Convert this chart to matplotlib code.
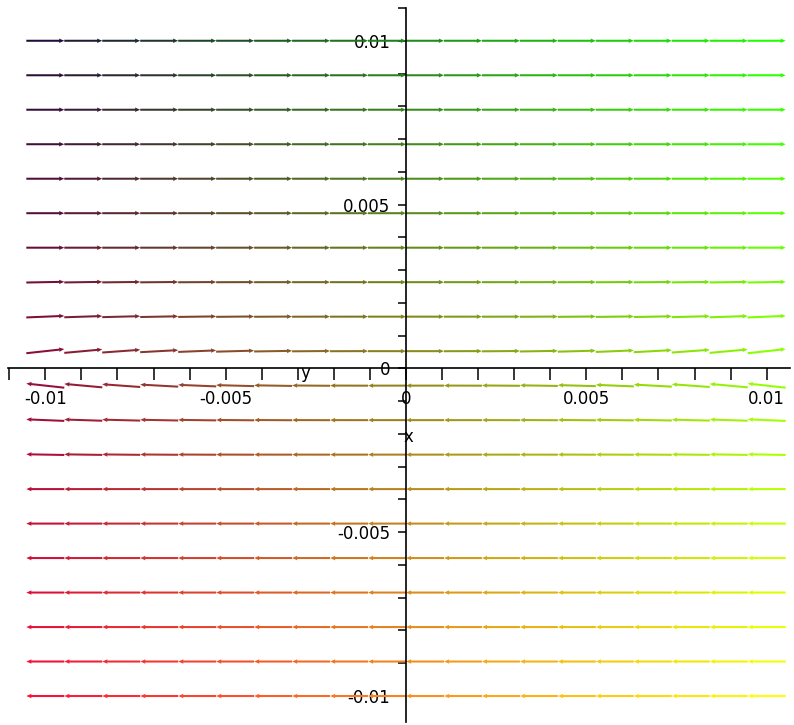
import numpy as np
import matplotlib
matplotlib.use("Agg")
import matplotlib.pyplot as plt

# Grid of arrow centres (20 x 20 fieldplot on [-0.01, 0.01]^2)
x_centers = [-0.01, -0.008947, -0.007895, -0.006842, -0.005789, -0.004737, -0.003684,
             -0.002632, -0.001579, -0.000526, 0.000526, 0.001579, 0.002632, 0.003684,
             0.004737, 0.005789, 0.006842, 0.007895, 0.008947, 0.01]
y_centers = list(x_centers)
arrow_len = 0.001053

# Direction of each row (bottom to top): -1 = points left, +1 = points right
row_direction = [-1, -1, -1, -1, -1, -1, -1, -1, -1, -1,
                 1, 1, 1, 1, 1, 1, 1, 1, 1, 1]

# Upward tilt (dy/dx) of arrows in the rows close to y = 0
tilt_near = [0.12, 0.10, 0.08, 0.06, 0.045, 0.03, 0.018, 0.009, 0.003, 0.0,
             0.0, 0.003, 0.009, 0.018, 0.03, 0.045, 0.06, 0.08, 0.10, 0.12]
tilt_mid = [0.045, 0.036, 0.028, 0.021, 0.015, 0.01, 0.006, 0.003, 0.001, 0.0,
            0.0, 0.001, 0.003, 0.006, 0.01, 0.015, 0.021, 0.028, 0.036, 0.045]
tilt_far = [0.02, 0.016, 0.012, 0.009, 0.006, 0.004, 0.002, 0.001, 0.0, 0.0,
            0.0, 0.0, 0.001, 0.002, 0.004, 0.006, 0.009, 0.012, 0.016, 0.02]
row_tilt = {7: tilt_far, 8: tilt_mid, 9: tilt_near,
            10: tilt_near, 11: tilt_mid, 12: tilt_far}

x_ticks = [-0.011, -0.010, -0.009, -0.008, -0.007, -0.006, -0.005, -0.004, -0.003, -0.002,
           -0.001, 0.0, 0.001, 0.002, 0.003, 0.004, 0.005, 0.006, 0.007, 0.008, 0.009, 0.010]
y_ticks = [-0.010, -0.009, -0.008, -0.007, -0.006, -0.005, -0.004, -0.003, -0.002, -0.001,
           0.0, 0.001, 0.002, 0.003, 0.004, 0.005, 0.006, 0.007, 0.008, 0.009, 0.010, 0.011]
labeled = {-0.01: "-0.01", -0.005: "-0.005", 0.0: "0", 0.005: "0.005", 0.01: "0.01"}

W, H = 794, 725
fig = plt.figure(figsize=(W / 100, H / 100), dpi=100)
ax = fig.add_axes([8 / W, 3 / H, 782 / W, 714 / H])
ax.set_xlim(-0.011034, 0.010646)
ax.set_ylim(-0.010793, 0.010976)

X, Y, U, V, C = [], [], [], [], []
nx = len(x_centers)
ny = len(y_centers)
for i, yv in enumerate(y_centers):
    for j, xv in enumerate(x_centers):
        s = row_tilt.get(i, [0.0] * nx)[j]
        X.append(xv)
        Y.append(yv)
        U.append(row_direction[i] * arrow_len)
        V.append(s * arrow_len)
        tx = j / (nx - 1)
        ty = i / (ny - 1)
        r = 1.0 - 0.88 * ty
        g = 0.06 + 0.94 * tx
        b = 0.22 * (1 - tx)
        C.append((min(r, 1), min(g, 1), b))

ax.quiver(X, Y, U, V, color=C, angles="xy", scale_units="xy", scale=1,
          pivot="middle", width=0.0026, headwidth=2.2, headlength=2.6,
          headaxislength=2.4, zorder=2)

for side in ["top", "right"]:
    ax.spines[side].set_visible(False)
ax.spines["left"].set_position(("data", 0))
ax.spines["bottom"].set_position(("data", 0))
for side in ["left", "bottom"]:
    ax.spines[side].set_linewidth(1.2)
    ax.spines[side].set_zorder(3)

def lab(v):
    for k, t in labeled.items():
        if abs(v - k) < 1e-9:
            return t
    return ""

ax.set_xticks(x_ticks)
ax.set_xticklabels([lab(v) for v in x_ticks])
ax.set_yticks(y_ticks)
ax.set_yticklabels([lab(v) for v in y_ticks])
ax.tick_params(axis="x", direction="out", length=8.5, width=1.1, pad=7, labelsize=12)
ax.tick_params(axis="y", direction="out", length=5.8, width=1.1, pad=5.5, labelsize=12)

ax.text(-0.0028, -0.00015, "y", fontsize=12, ha="center", va="center")
ax.text(0.00006, -0.0021, "x", fontsize=12, ha="center", va="center")

fig.savefig("out.png", dpi=100)
